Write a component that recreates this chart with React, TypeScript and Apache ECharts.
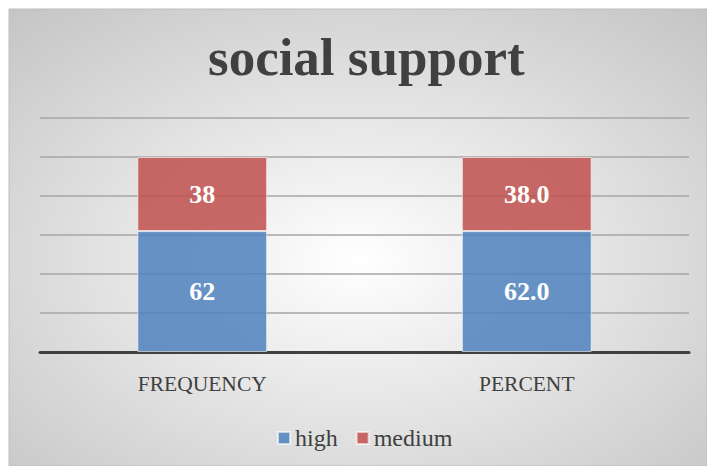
import React, { useEffect, useRef } from "react";
import * as echarts from "echarts";

const categories = ["FREQUENCY", "PERCENT"];
const highValues = [62, 62.0];
const mediumValues = [38, 38.0];
const labelDecimals = [0, 1];
const yTicks = { min: 0, max: 120, interval: 20 };
const titleText = "social support";

export default function App() {
  const ref = useRef<HTMLDivElement>(null);
  useEffect(() => {
    document.body.style.margin = "0";
    const chart = echarts.init(ref.current!, null, { renderer: "svg" });
    const fmt = (p: any) => Number(p.value).toFixed(labelDecimals[p.dataIndex]);
    const font = "'Liberation Serif', serif";
    const label = {
      show: true,
      position: "inside",
      formatter: fmt,
      fontFamily: font,
      fontWeight: "bold",
      fontSize: 26,
      color: "#ffffff",
    };
    chart.setOption({
      animation: false,
      backgroundColor: "#ffffff",
      graphic: [
        {
          type: "rect",
          z: -10,
          silent: true,
          shape: { x: 9, y: 9, width: 698, height: 457 },
          style: {
            fill: {
              type: "radial",
              x: 0.5,
              y: 0.55,
              r: 0.75,
              colorStops: [
                { offset: 0, color: "#ffffff" },
                { offset: 1, color: "#c4c4c4" },
              ],
            },
            stroke: "#bdbdbd",
            lineWidth: 1,
          },
        },
      ],
      title: {
        text: titleText,
        left: 208,
        top: 30,
        padding: 0,
        textStyle: {
          fontFamily: font,
          fontWeight: "bold",
          fontSize: 53,
          color: "#404040",
        },
      },
      legend: {
        bottom: 16,
        left: 277,
        padding: 0,
        itemWidth: 12,
        itemHeight: 12,
        itemGap: 18,
        icon: "rect",
        textStyle: { fontFamily: font, fontSize: 24, color: "#404040" },
        data: ["high", "medium"],
      },
      grid: { left: 40, right: 18, top: 118, bottom: 114, containLabel: false },
      xAxis: {
        type: "category",
        data: categories,
        axisLine: { lineStyle: { color: "#404040", width: 3 } },
        axisTick: { show: false },
        axisLabel: { fontFamily: font, fontSize: 21.5, color: "#404040", margin: 21 },
      },
      yAxis: {
        type: "value",
        min: yTicks.min,
        max: yTicks.max,
        interval: yTicks.interval,
        axisLabel: { show: false },
        axisLine: { show: false },
        axisTick: { show: false },
        splitLine: { lineStyle: { color: "#a6a6a6", width: 1.5 } },
      },
      series: [
        {
          name: "high",
          type: "bar",
          stack: "s",
          barWidth: "40%",
          data: highValues,
          itemStyle: { color: "rgba(79,129,189,0.85)", borderColor: "rgba(255,255,255,0.6)", borderWidth: 1 },
          label,
        },
        {
          name: "medium",
          type: "bar",
          stack: "s",
          barWidth: "40%",
          data: mediumValues,
          itemStyle: { color: "rgba(192,80,77,0.85)", borderColor: "rgba(255,255,255,0.6)", borderWidth: 1 },
          label,
        },
      ],
    });
    return () => chart.dispose();
  }, []);
  return <div ref={ref} style={{ width: 707, height: 466 }} />;
}
